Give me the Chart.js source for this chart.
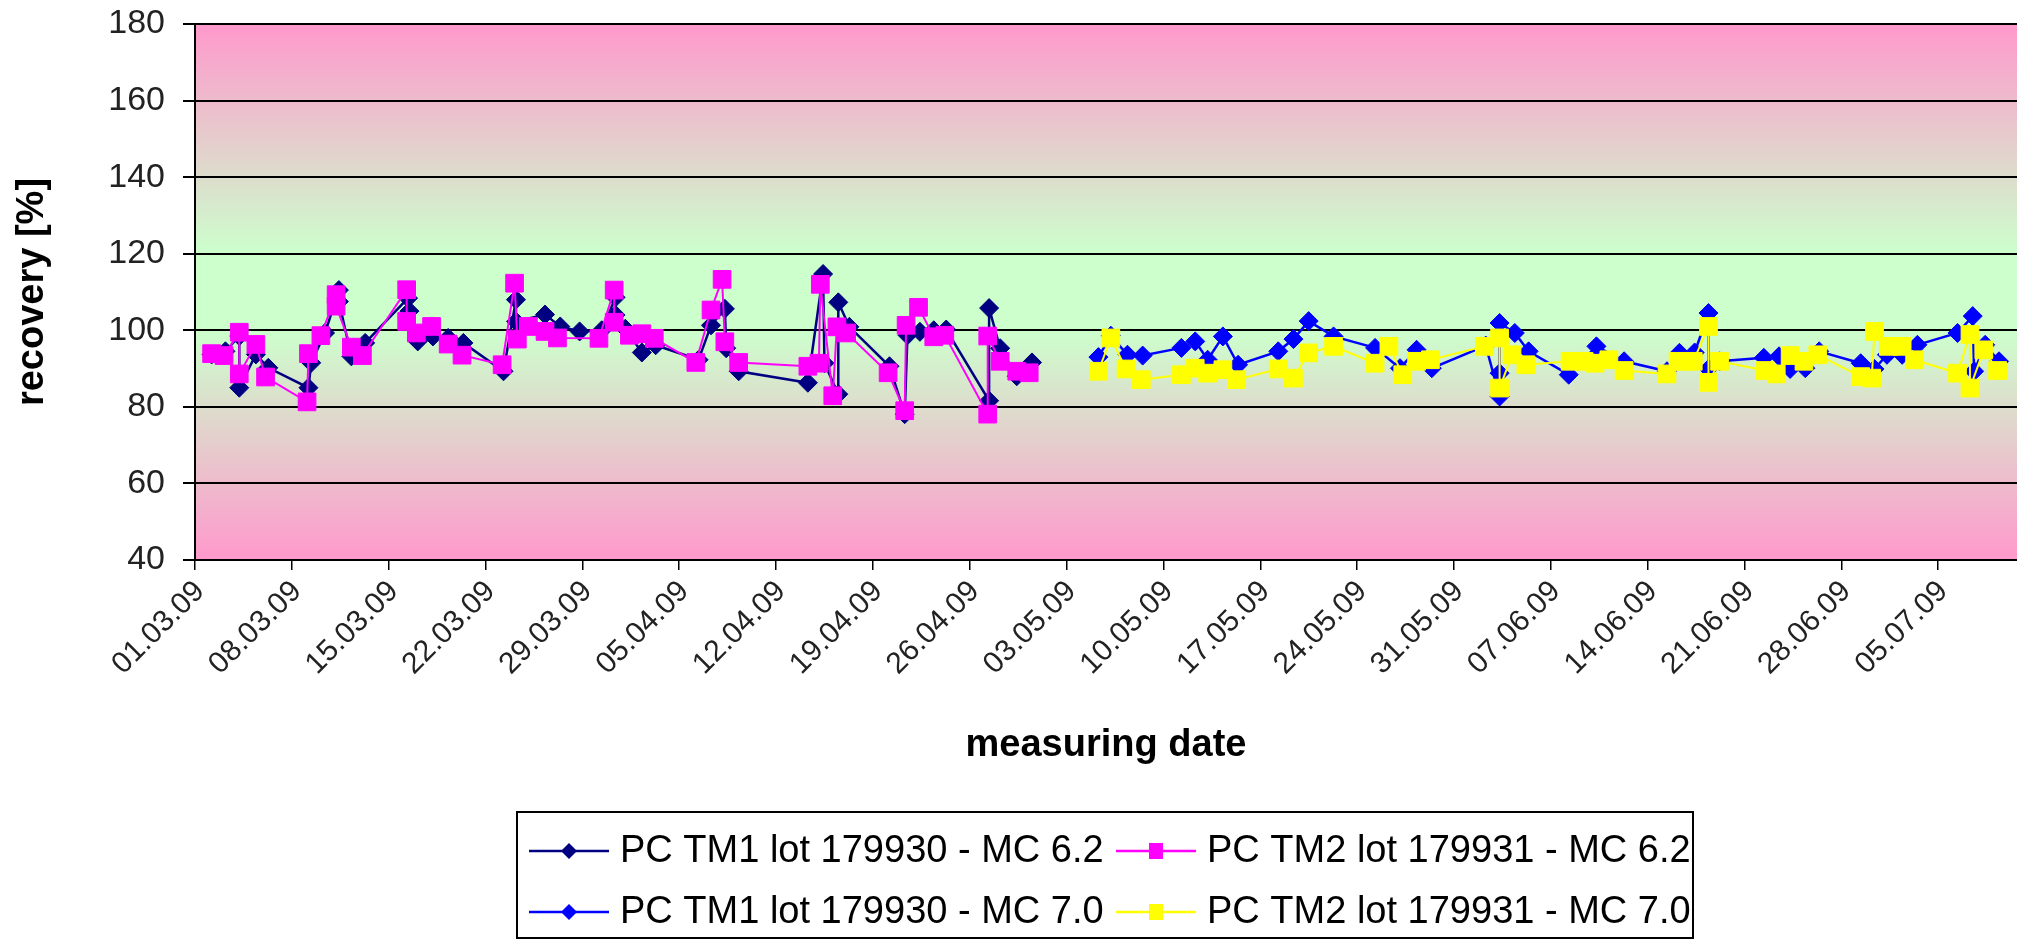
<!DOCTYPE html>
<html>
<head>
<meta charset="utf-8">
<script src="https://cdn.jsdelivr.net/npm/chart.js@4/dist/chart.umd.min.js"></script>
<style>
  html, body { margin: 0; padding: 0; background: #fff; }
  #wrap { width: 2017px; height: 940px; position: relative; }
</style>
</head>
<body>
<div id="wrap"><canvas id="graph"></canvas></div>
<script>
// days counted from 01.03.09
const xTickLabels = ["01.03.09", "08.03.09", "15.03.09", "22.03.09", "29.03.09", "05.04.09", "12.04.09",
    "19.04.09", "26.04.09", "03.05.09", "10.05.09", "17.05.09", "24.05.09", "31.05.09", "07.06.09",
    "14.06.09", "21.06.09", "28.06.09", "05.07.09"];

const seriesNames = ["PC TM1 lot 179930 - MC 6.2", "PC TM2 lot 179931 - MC 6.2",
    "PC TM1 lot 179930 - MC 7.0", "PC TM2 lot 179931 - MC 7.0"];

const tm1Mc62Days = [1.2, 2.2, 3.2, 3.2, 4.4, 5.3, 8.2, 8.4, 9.4, 10.4, 10.4, 11.3, 12.3, 15.4, 15.5, 16.1, 17.2,
    18.3, 19.4, 22.3, 23.2, 23.2, 25.3, 26.4, 27.8, 29.4, 30.4, 30.4, 31.1, 32.3, 33.3, 36.4, 37.3, 38.3, 38.4,
    39.3, 44.3, 45.4, 45.5, 46.5, 46.5, 47.3, 50.2, 51.3, 51.5, 52.4, 53.4, 54.3, 57.4, 57.4, 58.2, 59.4, 60.5];
const tm1Mc62Values = [93.7, 94.5, 98.5, 85.0, 93.7, 90.2, 85.0, 91.5, 99.3, 110.5, 107.5, 93.2, 96.7, 108.4, 105.0,
    97.1, 98.4, 98.0, 96.7, 89.3, 108.0, 102.3, 104.1, 101.0, 99.7, 100.0, 108.6, 104.0, 100.4, 94.2, 96.1, 92.3,
    101.3, 105.6, 95.3, 89.3, 86.3, 114.7, 91.4, 83.3, 107.3, 100.9, 90.6, 78.1, 98.7, 99.6, 100.0, 100.2, 81.6,
    105.8, 95.3, 88.0, 91.6];

const tm2Mc62Days = [1.2, 2.1, 3.2, 3.2, 4.4, 5.1, 8.1, 8.2, 9.1, 10.2, 10.2, 11.3, 12.1, 15.3, 15.3, 16.0, 17.1,
    18.3, 19.3, 22.2, 23.1, 23.3, 24.1, 25.3, 26.2, 29.2, 30.3, 30.3, 31.4, 32.3, 33.2, 36.2, 37.3, 38.1, 38.3,
    39.3, 44.3, 45.1, 45.2, 46.1, 46.4, 47.1, 50.1, 51.3, 51.4, 52.3, 53.4, 54.2, 57.3, 57.3, 58.2, 59.4, 60.3];
const tm2Mc62Values = [93.9, 93.4, 99.5, 88.6, 96.3, 87.8, 81.3, 93.9, 98.6, 109.3, 106.3, 95.6, 93.4, 110.6, 102.3,
    99.3, 101.0, 96.4, 93.5, 91.0, 112.3, 97.7, 101.0, 99.7, 98.0, 97.9, 110.5, 102.1, 98.7, 99.1, 97.9, 91.6,
    105.3, 113.3, 97.0, 91.6, 90.6, 91.4, 112.0, 82.9, 100.9, 99.3, 88.9, 79.0, 101.3, 106.0, 98.3, 98.7, 78.1,
    98.5, 91.9, 89.3, 88.9];

const tm1Mc70Days = [65.3, 66.2, 67.4, 68.5, 71.3, 72.3, 73.2, 74.3, 75.4, 78.3, 79.4, 80.5, 82.3, 85.3, 87.1, 88.3,
    89.4, 93.3, 94.3, 94.3, 94.3, 95.4, 96.4, 99.3, 101.3, 103.3, 106.4, 107.3, 108.4, 109.4, 109.4, 110.2, 113.4,
    114.5, 115.3, 116.4, 117.4, 120.4, 121.4, 122.3, 123.4, 124.5, 127.4, 128.5, 128.6, 129.4, 130.4];
const tm1Mc70Values = [93.0, 98.6, 93.6, 93.4, 95.4, 97.1, 92.3, 98.4, 91.0, 94.5, 97.7, 102.4, 98.4, 95.4, 90.1, 94.9,
    90.1, 96.0, 82.7, 88.8, 101.9, 99.3, 94.5, 88.4, 95.8, 91.9, 89.3, 94.1, 94.2, 104.5, 89.9, 91.9, 92.8,
    93.2, 89.9, 90.1, 94.5, 91.4, 89.9, 93.6, 93.6, 96.2, 99.3, 103.7, 89.3, 96.2, 91.9];

const tm2Mc70Days = [65.3, 66.2, 67.3, 68.4, 71.3, 72.3, 73.2, 74.3, 75.3, 78.3, 79.4, 80.5, 82.3, 85.3, 86.3, 87.3,
    88.3, 89.3, 93.2, 94.3, 94.3, 95.2, 96.2, 99.4, 100.4, 101.2, 102.2, 103.3, 106.4, 107.2, 108.3, 109.4, 109.4,
    110.2, 113.5, 114.3, 115.3, 116.3, 117.3, 120.4, 121.2, 121.4, 122.4, 123.4, 124.3, 127.4, 128.3, 128.3,
    129.3, 130.3];
const tm2Mc70Values = [89.3, 98.0, 89.9, 87.1, 88.4, 90.1, 88.8, 89.7, 87.1, 89.9, 87.5, 94.1, 95.8, 91.4, 95.8, 88.4,
    91.9, 92.3, 95.8, 98.0, 84.9, 93.6, 91.0, 91.9, 91.9, 91.4, 92.3, 89.5, 88.6, 91.9, 91.9, 101.0, 86.4,
    91.9, 89.5, 88.6, 93.4, 91.9, 93.6, 87.9, 87.5, 99.7, 95.8, 95.8, 92.3, 88.8, 98.9, 84.9,
    94.9, 89.5];

const FONT = "'Liberation Sans', Arial, sans-serif";

function points(days, values) {
    let pts = [];
    for (let i = 0; i < days.length; i++) {
        pts.push({ x: days[i], y: values[i] });
    }
    return pts;
}

function serie(label, days, values, color, style, radius, width, order) {
    return {
        label: label,
        data: points(days, values),
        borderColor: color,
        backgroundColor: color,
        borderWidth: width,
        pointStyle: style,
        pointRadius: radius,
        pointHoverRadius: radius,
        pointBorderWidth: 1,
        pointBorderColor: color,
        pointBackgroundColor: color,
        tension: 0,
        order: order
    };
}

// pink / green background bands
const fondPlugin = {
    id: "fond",
    beforeDraw(chart) {
        const ctx = chart.ctx;
        const a = chart.chartArea;
        const y = chart.scales.y;
        const y0 = y.getPixelForValue(180);
        const y1 = y.getPixelForValue(40);
        const g = ctx.createLinearGradient(0, y0, 0, y1);
        g.addColorStop(0, "#ff99cc");
        g.addColorStop((180 - 120) / 140, "#ccffcc");
        g.addColorStop((180 - 100) / 140, "#ccffcc");
        g.addColorStop(1, "#ff99cc");
        ctx.save();
        ctx.fillStyle = g;
        ctx.fillRect(a.left, y0, a.right - a.left, y1 - y0);
        ctx.restore();
    }
};

// boxed legend, line through marker like the original
const legendePlugin = {
    id: "legende",
    afterDraw(chart) {
        const ctx = chart.ctx;
        const boxX = 517, boxY = 812, boxW = 1176, boxH = 126;
        const colX = [529, 1116];
        const rowY = [851, 912];
        ctx.save();
        ctx.fillStyle = "#fff";
        ctx.fillRect(boxX, boxY, boxW, boxH);
        ctx.strokeStyle = "#000";
        ctx.lineWidth = 2;
        ctx.strokeRect(boxX, boxY, boxW, boxH);
        chart.data.datasets.forEach((ds, i) => {
            const x = colX[i % 2];
            const y = rowY[Math.floor(i / 2)];
            ctx.strokeStyle = ds.borderColor;
            ctx.lineWidth = 2.5;
            ctx.beginPath();
            ctx.moveTo(x, y);
            ctx.lineTo(x + 80, y);
            ctx.stroke();
            ctx.fillStyle = ds.borderColor;
            ctx.beginPath();
            if (ds.pointStyle === "rectRot") {
                ctx.moveTo(x + 40, y - 8);
                ctx.lineTo(x + 48, y);
                ctx.lineTo(x + 40, y + 8);
                ctx.lineTo(x + 32, y);
                ctx.closePath();
            } else {
                ctx.rect(x + 33, y - 8, 14, 16);
            }
            ctx.fill();
            ctx.fillStyle = "#000";
            ctx.font = "38px " + FONT;
            ctx.textBaseline = "middle";
            ctx.textAlign = "left";
            ctx.fillText(ds.label, x + 91, y + 1);
        });
        ctx.restore();
    }
};

const ctx = document.getElementById("graph").getContext("2d");

new Chart(ctx, {
    type: "line",
    data: {
        datasets: [
            serie(seriesNames[0], tm1Mc62Days, tm1Mc62Values, "#000080", "rectRot", 9.5, 2.5, 4),
            serie(seriesNames[1], tm2Mc62Days, tm2Mc62Values, "#ff00ff", "rect", 12.5, 2, 3),
            serie(seriesNames[2], tm1Mc70Days, tm1Mc70Values, "#0000ff", "rectRot", 9.5, 2.5, 2),
            serie(seriesNames[3], tm2Mc70Days, tm2Mc70Values, "#ffff00", "rect", 12.5, 2, 1)
        ]
    },
    options: {
        responsive: true,
        maintainAspectRatio: false,
        animation: false,
        layout: { autoPadding: false, padding: { left: 0, right: 0, top: 24, bottom: 172 } },
        plugins: {
            legend: { display: false },
            tooltip: { enabled: false }
        },
        scales: {
            x: {
                type: "linear",
                min: 0,
                max: 131.7,
                afterBuildTicks: (scale) => {
                    scale.ticks = xTickLabels.map((t, i) => ({ value: i * 7 }));
                },
                afterFit: (scale) => {
                    scale.height = 208;
                    scale.paddingLeft = 0;
                    scale.paddingRight = 0;
                },
                ticks: {
                    autoSkip: false,
                    minRotation: 45,
                    maxRotation: 45,
                    padding: 4,
                    labelOffset: 5,
                    color: "#222",
                    font: { family: FONT, size: 30 },
                    callback: (v) => xTickLabels[Math.round(v / 7)]
                },
                grid: {
                    drawOnChartArea: false,
                    drawTicks: true,
                    tickLength: 10,
                    color: "#000",
                    lineWidth: 1.5
                },
                border: { display: true, color: "#000", width: 2 },
                title: {
                    display: true,
                    text: "measuring date",
                    color: "#000",
                    padding: { top: 0, bottom: 0 },
                    font: { family: FONT, size: 38, weight: "bold" }
                }
            },
            y: {
                min: 40,
                max: 180,
                afterFit: (scale) => {
                    scale.width = 195;
                    scale.paddingTop = 0;
                    scale.paddingBottom = 0;
                },
                ticks: {
                    stepSize: 20,
                    padding: 18,
                    color: "#222",
                    font: { family: FONT, size: 34 }
                },
                grid: {
                    color: "#000",
                    lineWidth: 2,
                    tickLength: 12
                },
                border: { display: true, color: "#000", width: 2 },
                title: {
                    display: true,
                    text: "recovery [%]",
                    color: "#000",
                    padding: { top: 10, bottom: 0 },
                    font: { family: FONT, size: 38, weight: "bold" }
                }
            }
        }
    },
    plugins: [fondPlugin, legendePlugin]
});
</script>
</body>
</html>
